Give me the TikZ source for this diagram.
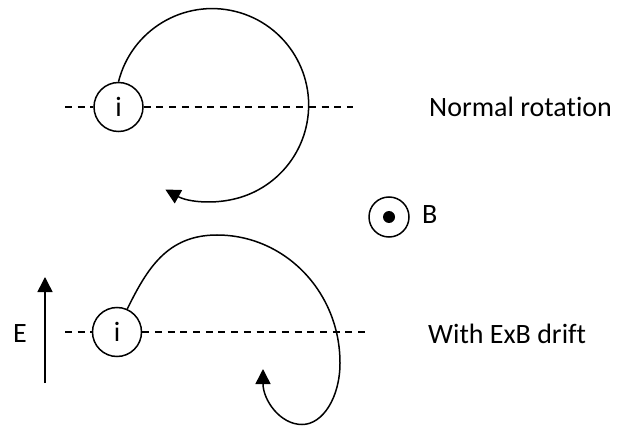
\documentclass[tikz,border=0pt]{standalone}
\usepackage{fontspec}
\setmainfont[Ligatures={NoCommon}]{Carlito}
\usetikzlibrary{arrows.meta}
\begin{document}
\begin{tikzpicture}[x=1pt,y=1pt,
  every node/.style={font=\fontsize{28}{34}\selectfont},
  ln/.style={line width=1.5pt},
  ion/.style={draw,circle,line width=1.5pt,minimum size=49pt,inner sep=0pt,fill=white},
  dline/.style={line width=1.5pt,dash pattern=on 7pt off 5.7pt},
  tip/.style={-{Triangle[length=15pt,width=15pt]}},
  lbl/.style={anchor=base west,inner sep=0pt}]
\useasboundingbox (0,0) rectangle (623,426);
% top
\coordinate (tl) at (65,319);
\coordinate (tr) at (353,319);
\node[ion] (i1) at (118.5,319) {i};
\draw[dline] (tl) -- (i1.west);
\draw[dline] (i1.east) -- (tr);
\draw[ln,tip] (i1.north) arc[start angle=166, end angle=-119, radius=96.5];
\node[lbl] (t1) at (429,309) {Normal rotation};
% B
\node[draw,circle,line width=1.5pt,minimum size=40pt,inner sep=0pt] (bc) at (389,209) {};
\fill (bc.center) circle[radius=6pt];
\node[lbl] (bl) at (422,202) {B};
% bottom
\coordinate (bl0) at (65,94);
\coordinate (br0) at (367,94);
\node[ion] (i2) at (117,94) {i};
\draw[dline] (bl0) -- (i2.west);
\draw[dline] (i2.east) -- (br0);
\draw[ln,tip] (i2.66) .. controls (147,157) and (167,191) .. (217,191)
  .. controls (285,191) and (340,134) .. (340,63)
  .. controls (340,29) and (323,1.5) .. (302,1.5)
  .. controls (280,1.5) and (263,26) .. (263,57);
\node[lbl] (t2) at (428,83) {With ExB drift};
% E
\coordinate (e0) at (45,43);
\coordinate (e1) at (45,149);
\draw[ln,tip] (e0) -- (e1);
\node[lbl] (el) at (13,84) {E};
\end{tikzpicture}
\end{document}
